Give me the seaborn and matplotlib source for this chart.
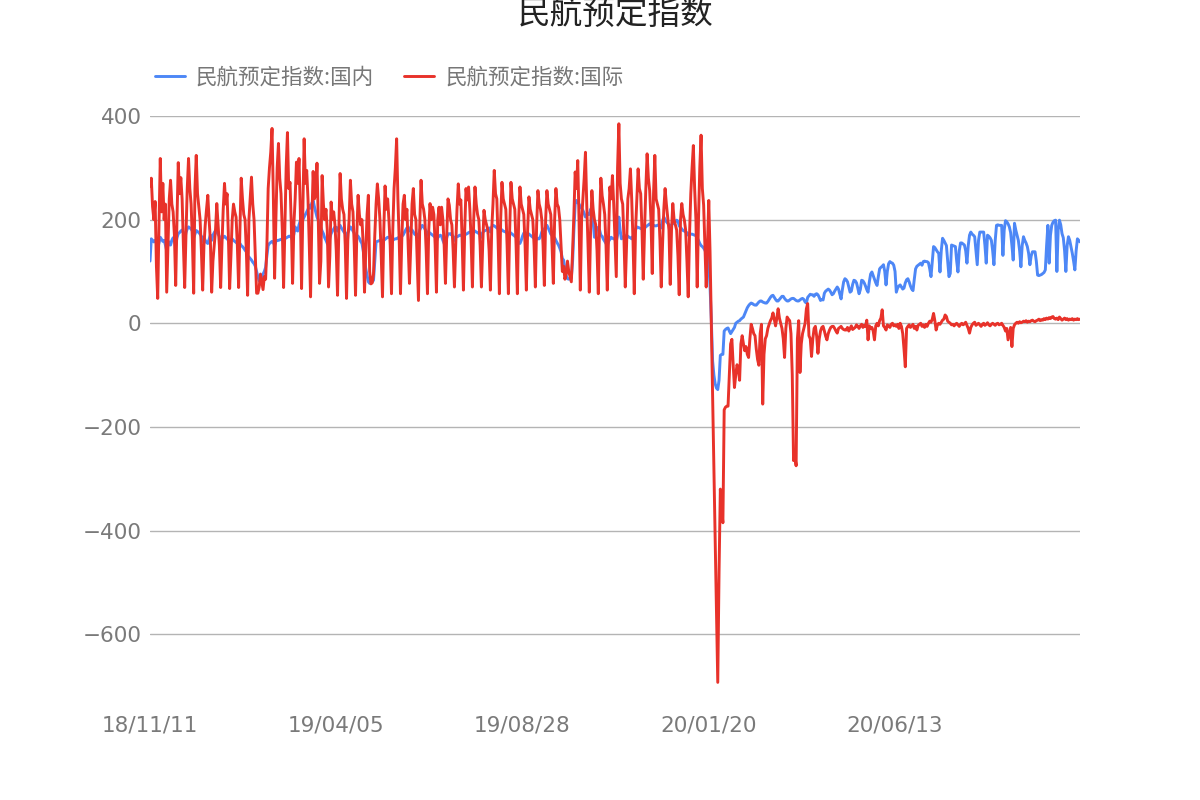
import matplotlib
matplotlib.use("Agg")
import matplotlib.pyplot as plt
import seaborn as sns
import pandas as pd
import numpy as np

# ---- data: daily booking index, 2018-11-11 .. 2020-11-04 (one row per week) ----
start_date = "2018-11-11"
tick_labels = ["18/11/11", "19/04/05", "19/08/28", "20/01/20", "20/06/13"]
tick_days = [0, 145, 290, 435, 580]
y_ticks = [-600, -400, -200, 0, 200, 400]

domestic = [
    120, 163, 160, 157, 160, 155, 145,
    155, 166, 162, 158, 160, 151, 140,
    150, 157, 151, 160, 165, 160, 150,
    165, 173, 175, 178, 180, 175, 160,
    175, 182, 186, 184, 182, 178, 165,
    172, 179, 177, 175, 172, 168, 158,
    166, 160, 156, 154, 162, 170, 160,
    170, 175, 179, 176, 172, 168, 158,
    164, 166, 168, 165, 163, 160, 150,
    160, 163, 160, 158, 156, 154, 145,
    154, 150, 148, 145, 141, 138, 130,
    128, 125, 122, 118, 115, 110, 100,
    90, 82, 80, 85, 95, 100, 108,
    130, 150, 154, 156, 158, 156, 150,
    158, 160, 160, 161, 162, 163, 155,
    163, 165, 166, 168, 168, 166, 160,
    172, 186, 180, 178, 190, 198, 195,
    200, 205, 210, 215, 220, 228, 222,
    232, 237, 225, 215, 205, 199, 190,
    185, 178, 173, 165, 160, 154, 150,
    165, 173, 178, 182, 186, 185, 178,
    185, 189, 184, 180, 176, 173, 165,
    175, 180, 186, 183, 178, 174, 165,
    170, 168, 164, 158, 154, 140, 122,
    105, 92, 80, 77, 78, 80, 83,
    120, 157, 158, 159, 160, 160, 155,
    160, 162, 164, 166, 166, 165, 158,
    160, 162, 163, 163, 165, 166, 160,
    168, 170, 175, 180, 184, 186, 178,
    182, 180, 176, 172, 170, 172, 165,
    180, 185, 189, 186, 182, 178, 170,
    176, 174, 172, 170, 168, 166, 158,
    165, 168, 170, 168, 160, 154, 150,
    165, 173, 172, 173, 170, 168, 160,
    166, 167, 168, 170, 170, 168, 162,
    170, 172, 173, 175, 176, 177, 168,
    179, 178, 176, 175, 173, 173, 166,
    175, 178, 179, 180, 182, 184, 176,
    186, 189, 188, 186, 184, 182, 176,
    182, 180, 178, 177, 176, 174, 168,
    176, 174, 172, 170, 168, 166, 158,
    156, 154, 160, 168, 174, 176, 168,
    174, 172, 170, 168, 166, 165, 158,
    164, 163, 163, 168, 176, 182, 178,
    186, 189, 184, 178, 172, 170, 162,
    165, 160, 155, 151, 145, 138, 125,
    122, 105, 92, 86, 85, 86, 88,
    120, 180, 230, 237, 234, 230, 225,
    222, 218, 212, 205, 208, 212, 210,
    220, 215, 195, 166, 170, 185, 182,
    180, 170, 168, 162, 158, 154, 150,
    158, 162, 166, 164, 163, 162, 158,
    170, 205, 180, 163, 165, 168, 162,
    170, 168, 166, 165, 163, 168, 172,
    180, 186, 185, 184, 183, 182, 176,
    184, 186, 188, 190, 192, 190, 186,
    189, 188, 188, 189, 190, 189, 184,
    198, 205, 200, 196, 193, 190, 186,
    190, 192, 194, 196, 199, 197, 188,
    185, 182, 179, 178, 176, 175, 170,
    173, 172, 172, 171, 170, 170, 165,
    160, 154, 150, 148, 145, 141, 135,
    135, 115, 70, 5, -73, -100, -117,
    -125, -128, -110, -62, -60, -60, -15,
    -12, -10, -9, -15, -20, -16, -12,
    -8, 0, 2, 4, 5, 8, 10,
    12, 18, 24, 30, 34, 37, 39,
    38, 36, 35, 35, 38, 41, 43,
    43, 41, 40, 39, 39, 42, 46,
    50, 53, 54, 50, 46, 43, 43,
    46, 49, 52, 52, 48, 45, 43,
    43, 45, 47, 48, 48, 46, 44,
    43, 43, 45, 47, 48, 46, 41,
    39, 50, 53, 56, 55, 55, 52,
    56, 57, 55, 50, 44, 46, 45,
    58, 62, 64, 66, 64, 60, 55,
    57, 62, 66, 70, 66, 56, 47,
    65, 80, 86, 84, 80, 70, 60,
    62, 75, 83, 82, 78, 68, 57,
    65, 83, 82, 78, 72, 65, 60,
    80, 95, 99, 92, 85, 78, 73,
    90, 105, 108, 110, 113, 100, 74,
    100, 115, 119, 117, 116, 112, 100,
    60, 68, 72, 74, 70, 66, 68,
    78, 84, 86, 80, 72, 66, 63,
    85, 105, 110, 112, 114, 116, 112,
    119, 120, 119, 119, 117, 105, 90,
    120, 148, 146, 142, 138, 135, 99,
    140, 164, 160, 155, 150, 120, 90,
    96, 151, 150, 149, 148, 120, 99,
    140, 155, 155, 153, 151, 140, 116,
    150, 170, 176, 172, 170, 167, 140,
    113, 160, 176, 176, 176, 176, 150,
    116, 170, 168, 165, 160, 140, 113,
    160, 189, 190, 189, 189, 189, 131,
    180, 198, 196, 192, 186, 175, 150,
    122, 193, 180, 170, 160, 140, 109,
    150, 167, 160, 155, 148, 135, 113,
    130, 138, 138, 138, 120, 93, 92,
    93, 94, 96, 98, 103, 150, 189,
    116, 170, 189, 195, 198, 199, 100,
    180, 199, 190, 173, 165, 140, 100,
    150, 167, 160, 148, 135, 120, 103,
    140, 163, 160, 157,
]

international = [
    265, 280, 225, 200, 235, 110, 48,
    190, 318, 215, 270, 200, 230, 60,
    150, 240, 276, 230, 215, 170, 73,
    200, 310, 250, 281, 240, 150, 69,
    170, 260, 318, 260, 230, 160, 58,
    260, 324, 250, 224, 200, 140, 64,
    150, 190, 220, 247, 200, 160, 60,
    120, 150, 180, 231, 190, 150, 69,
    150, 220, 270, 230, 250, 170, 67,
    130, 200, 230, 215, 205, 150, 69,
    180, 280, 240, 210, 200, 140, 54,
    200, 240, 282, 230, 200, 130, 58,
    58, 70, 95, 80, 65, 90, 85,
    150, 260, 300, 330, 376, 250, 87,
    200, 300, 347, 280, 250, 180, 69,
    180, 300, 368, 260, 272, 190, 77,
    190, 240, 311, 270, 318, 220, 67,
    220, 356, 270, 295, 240, 150, 51,
    200, 293, 240, 250, 309, 200, 77,
    120, 285, 230, 200, 220, 180, 70,
    130, 234, 200, 215, 190, 140, 54,
    180, 289, 240, 220, 210, 150, 48,
    160, 200, 276, 230, 215, 150, 54,
    170, 247, 210, 190, 200, 150, 60,
    140, 210, 247, 100, 76, 78, 95,
    170, 230, 269, 240, 200, 130, 51,
    180, 265, 220, 240, 200, 150, 57,
    180, 260, 300, 356, 240, 160, 57,
    160, 230, 247, 200, 220, 150, 77,
    150, 230, 260, 210, 200, 120, 44,
    190, 276, 230, 220, 200, 140, 57,
    180, 231, 200, 224, 210, 150, 60,
    200, 224, 190, 224, 200, 150, 77,
    170, 240, 228, 200, 190, 140, 70,
    150, 220, 269, 230, 238, 160, 64,
    180, 260, 238, 263, 220, 160, 70,
    200, 263, 230, 210, 200, 150, 70,
    150, 218, 200, 190, 180, 140, 64,
    180, 230, 295, 250, 240, 160, 57,
    200, 272, 240, 230, 220, 150, 57,
    180, 272, 240, 230, 220, 150, 57,
    200, 263, 230, 220, 210, 150, 64,
    180, 244, 220, 210, 200, 150, 70,
    190, 256, 230, 220, 200, 150, 73,
    200, 256, 230, 220, 210, 150, 77,
    200, 260, 230, 224, 200, 150, 100,
    110, 85, 95, 120, 100, 90, 80,
    140, 210, 292, 260, 314, 200, 64,
    200, 240, 280, 330, 230, 150, 60,
    180, 256, 220, 200, 190, 140, 57,
    200, 280, 246, 230, 210, 150, 64,
    170, 263, 240, 285, 230, 160, 90,
    300, 385, 270, 240, 230, 160, 70,
    150, 240, 260, 298, 240, 160, 57,
    180, 240, 298, 260, 250, 180, 85,
    180, 260, 327, 280, 256, 200, 96,
    250, 324, 240, 230, 220, 160, 70,
    150, 220, 260, 230, 205, 180, 75,
    180, 231, 200, 190, 180, 130, 55,
    200, 231, 210, 199, 180, 120, 51,
    170, 250, 300, 343, 260, 200, 70,
    200, 300, 363, 260, 228, 150, 70,
    150, 237, 137, 0, -140, -280, -420,
    -560, -693, -480, -320, -360, -385, -167,
    -162, -160, -160, -100, -40, -31, -80,
    -124, -100, -80, -88, -110, -40, -24,
    -40, -53, -45, -60, -66, -30, -2,
    -10, -20, -24, -50, -70, -81, -20,
    -2, -156, -60, -30, -24, -10, -2,
    5, 10, 20, 8, -5, 10, 28,
    10, 0, -10, -30, -66, -10, 12,
    8, 5, -20, -100, -265, -255, -275,
    -30, 5, -95, -40, -20, -10, 0,
    28, 38, -24,
    -30, -64, -30, -10, -6, -25, -58,
    -30, -15, -8, -6, -15, -25, -32,
    -20, -13, -8, -6, -6, -10, -15,
    -19, -10, -8, -6, -10, -12, -13,
    -13, -8, -15, -10, -5, -12, -10,
    -8, -3, -6, -10, -5, -2, -8,
    -4, -6, 6, -32, -5, -10, -8,
    -15, -32, -5, 0, -5, 5, 10,
    26, -5, -8, -13, -3, -5, -8,
    -2, 0, -5, -3, -6, -2, -10,
    0, -6, -20, -50, -84, -10, -6,
    -3, -8, -5, -2, -10, -6, -13,
    -4, -2, 0, -6, -3, -8, -2,
    -6, 0, 4, 2, 8, 19, 5,
    -13, -3, 0, -2, 2, 6, 8,
    16, 13, 4, 2, 0, -3, -2,
    -5, -2, 0, -3, -6, -2, 0,
    -3, -1, 2, -4, -10, -19, -8,
    -3, 0, 2, -4, -2, 0, -3,
    -6, -2, 0, -4, -2, 1, -3,
    -5, -2, 0, -2, -4, -1, 0,
    -3, -2, 0, -4, -8, -15, -10,
    -32, -20, -8, -45, -10, -3, 0,
    2, 0, 3, 1, 2, 4, 3,
    5, 2, 4, 3, 5, 6, 4,
    3, 5, 6, 8, 5, 7, 6,
    9, 7, 10, 8, 11, 9, 12,
    13, 9, 8, 10, 7, 12, 9,
    6, 8, 10, 7, 9, 6, 8,
    7, 9, 6, 8, 7, 9, 7,
    8,
]

series_names = ["民航预定指数:国内", "民航预定指数:国际"]
colors = ["#4d87f6", "#e8322a"]

# ---- long-form frame for seaborn ----
dates = pd.date_range(start_date, periods=len(domestic), freq="D")
df = pd.concat([
    pd.DataFrame({"day": np.arange(len(domestic)), "date": dates,
                  "value": domestic, "series": series_names[0]}),
    pd.DataFrame({"day": np.arange(len(international)), "date": dates,
                  "value": international, "series": series_names[1]}),
], ignore_index=True)

sns.set_theme(style="white")
plt.rcParams["font.family"] = ["Noto Sans CJK SC", "DejaVu Sans"]
plt.rcParams["axes.unicode_minus"] = True

fig = plt.figure(figsize=(12, 8), dpi=100)
ax = fig.add_axes([0.125, 0.1425, 0.775, 0.7125])

sns.lineplot(data=df, x="day", y="value", hue="series",
             hue_order=series_names, palette=colors,
             linewidth=2.1, ax=ax, legend=True)

ax.set_xlim(0, len(domestic) - 1)
ax.set_ylim(-700, 400)
ax.set_yticks(y_ticks)
ax.set_yticklabels([f"{v:d}".replace("-", "\u2212") for v in y_ticks],
                   fontfamily="DejaVu Sans", fontsize=15.5, color="#7a7a7a")
ax.set_xticks(tick_days)
ax.set_xticklabels(tick_labels, fontfamily="DejaVu Sans",
                   fontsize=15.5, color="#7a7a7a")
ax.tick_params(axis="y", length=0, pad=6)
ax.tick_params(axis="x", length=0, pad=21.5)
ax.set_xlabel("")
ax.set_ylabel("")
for s in ax.spines.values():
    s.set_visible(False)
ax.yaxis.grid(True, color="#b4b4b4", linewidth=1)
ax.xaxis.grid(False)
ax.set_axisbelow(True)

# legend across the top-left
handles, labels = ax.get_legend_handles_labels()
ax.legend(handles, labels, loc="center left",
          bbox_to_anchor=(155 / 1200, 1 - 78 / 800),
          bbox_transform=fig.transFigure, ncol=2, frameon=False,
          fontsize=15.5, labelcolor="#777777", handlelength=1.4,
          handletextpad=0.5, columnspacing=1.4, borderpad=0,
          borderaxespad=0)

fig.text(0.513, 1 - 15 / 800, "民航预定指数", ha="center", va="center",
         fontsize=23.5, color="#222222", family=["Noto Sans CJK SC"])

fig.savefig("out.png", dpi=100)
